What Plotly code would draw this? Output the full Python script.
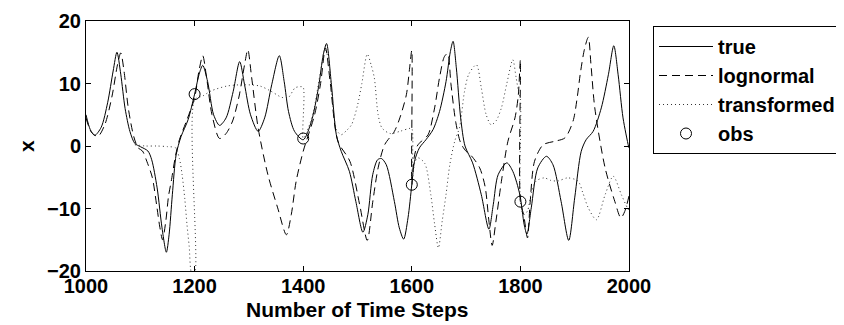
import plotly.graph_objects as go

# ---- data ----
true_x = [1000, 1008, 1016, 1028, 1040, 1050, 1057, 1064, 1072, 1081, 1090, 1100, 1114, 1121, 1131, 1140, 1148,
          1153, 1159, 1166, 1175, 1188, 1200, 1209, 1215, 1224, 1235, 1246, 1258, 1271, 1283, 1292, 1303, 1317,
          1329, 1342, 1356, 1365, 1373, 1384, 1400, 1415, 1428, 1437, 1443, 1452, 1461, 1470, 1485, 1497, 1510,
          1519, 1528, 1537, 1544, 1553, 1568, 1577, 1585, 1593, 1600, 1605, 1614, 1626, 1639, 1651, 1663, 1671,
          1676, 1682, 1690, 1698, 1712, 1728, 1742, 1750, 1759, 1775, 1786, 1799, 1807, 1812, 1820, 1832, 1848,
          1860, 1875, 1889, 1900, 1912, 1921, 1934, 1949, 1962, 1972, 1980, 1989, 1999, 2000]
true_y = [5.0, 2.6, 1.7, 3.0, 7.0, 12.0, 15.0, 11.5, 6.0, 2.3, 0.4, -0.1, -0.8, -2.2, -6.7, -13.1, -17.0,
          -14.2, -7.8, -1.4, 1.5, 4.2, 8.3, 11.7, 12.9, 10.3, 5.0, 3.3, 4.5, 8.7, 13.5, 9.8, 5.0, 2.35,
          4.5, 9.8, 14.45, 10.3, 5.5, 2.35, 1.0, 3.9, 9.3, 14.6, 16.4, 9.8, 1.8, -0.85, -4.05, -8.9, -13.8,
          -11.0, -4.6, -2.2, -2.0, -3.0, -8.9, -13.1, -14.9, -11.5, -6.2, -2.45, -0.3, 1.0, 2.6, 5.5, 10.3, 15.1,
          16.75, 12.5, 4.5, 0.0, -2.7, -7.8, -13.3, -9.4, -4.6, -2.7, -4.05, -7.8, -12.6, -14.1, -9.9, -3.5, -1.65,
          -3.0, -8.9, -15.1, -8.3, -0.85, 1.0, 2.35, 6.1, 11.4, 16.05, 11.4, 4.5, 0.0, -0.3]

logn_x = [1000, 1010, 1022, 1035, 1048, 1058, 1064, 1070, 1078, 1088, 1096, 1104, 1112, 1122, 1130, 1136, 1141,
          1147, 1152, 1157, 1165, 1172, 1185, 1200, 1208, 1215, 1222, 1232, 1246, 1258, 1270, 1282, 1292, 1298,
          1305, 1317, 1335, 1353, 1369, 1378, 1387, 1400, 1421, 1432, 1441, 1450, 1464, 1486, 1504, 1518, 1528,
          1538, 1550, 1568, 1578, 1590, 1596, 1600, 1600, 1604, 1610, 1618, 1630, 1642, 1651, 1660, 1666, 1672,
          1681, 1690, 1700, 1710, 1725, 1735, 1742, 1748, 1755, 1765, 1777, 1790, 1796, 1800, 1800, 1806, 1813,
          1818, 1826, 1842, 1863, 1882, 1897, 1905, 1910, 1918, 1925, 1930, 1937, 1956, 1974, 1985, 1992, 2000]
logn_y = [4.5, 2.2, 1.55, 3.5, 8.0, 13.0, 14.9, 12.0, 6.0, 1.5, -0.3, -0.8, -2.45, -5.0, -9.4, -13.0, -15.0,
          -12.0, -8.0, -5.65, -1.5, 1.0, 4.0, 7.7, 12.0, 14.45, 11.0, 5.0, 1.2, 2.0, 4.0, 8.0, 13.0, 15.4,
          11.0, 2.9, -4.6, -9.9, -14.2, -11.0, -5.65, -0.85, 5.0, 10.0, 15.7, 10.0, 0.75, -2.45, -9.4, -15.1, -9.0,
          -3.5, 0.2, 2.35, 4.5, 8.2, 12.5, 15.3, -6.2, -2.0, 0.0, 0.8, 1.8, 6.1, 10.9, 14.3, 14.8, 10.0,
          3.8, 0.5, -0.85, -1.6, -3.5, -6.5, -12.0, -15.9, -12.0, -5.65, 0.75, 4.5, 8.0, 13.8, -8.9, -11.0, -14.7,
          -9.0, -2.45, 0.2, 0.75, 1.3, 4.0, 8.0, 11.4, 15.5, 17.4, 13.0, 6.1, -3.5, -8.9, -11.5, -10.5, -8.0]

trans_x = [1090, 1110, 1130, 1150, 1165, 1172, 1177, 1182, 1186, 1190, 1195, 1200, 1200, 1215, 1230, 1260, 1290,
           1320, 1340, 1360, 1372, 1385, 1395, 1400, 1400, 1410, 1420, 1432, 1440, 1446, 1455, 1462, 1470, 1480,
           1489, 1500, 1508, 1518, 1525, 1531, 1538, 1545, 1560, 1580, 1595, 1600, 1600, 1606, 1612, 1624, 1635,
           1642, 1649, 1656, 1663, 1670, 1679, 1688, 1697, 1705, 1719, 1728, 1737, 1746, 1755, 1765, 1775, 1786,
           1792, 1797, 1800, 1800, 1806, 1813, 1820, 1829, 1844, 1856, 1869, 1887, 1906, 1915, 1925, 1940, 1956,
           1971, 1986, 1997, 2000]
trans_y = [0.2, 0.0, 0.0, -0.1, -0.3, -2.0, -4.6, -8.5, -12.6, -16.0, -20.5, -20.5, 7.4, 8.0, 8.8, 9.6, 9.8,
           9.6, 8.8, 7.8, 7.7, 9.3, 9.5, 9.4, 1.2, 3.0, 6.0, 12.0, 15.5, 14.0, 6.0, 2.5, 1.8, 2.5,
           3.4, 6.5, 10.0, 14.7, 13.0, 10.9, 5.0, 2.9, 2.0, 2.4, 2.8, 2.8, -6.2, -2.5, -1.9, -2.8, -7.8,
           -12.5, -16.3, -12.0, -7.8, -3.0, 0.75, 3.0, 8.7, 11.5, 13.0, 9.3, 5.0, 3.4, 4.0, 6.1, 10.0, 13.8,
           11.0, 8.5, 7.5, -8.9, -11.0, -10.4, -7.5, -5.6, -5.1, -5.5, -5.6, -5.1, -5.6, -7.5, -9.9, -11.8, -7.8,
           -4.85, -7.8, -9.9, -10.3]

obs_x = [1200, 1400, 1600, 1800]
obs_y = [8.3, 1.2, -6.2, -8.9]

x_ticks = [1000, 1200, 1400, 1600, 1800, 2000]
y_ticks = [-20, -10, 0, 10, 20]

x_title = "Number of Time Steps"
y_title = "x"

FONT = "Liberation Sans, Arial, Helvetica, sans-serif"

fig = go.Figure()
fig.add_trace(go.Scatter(x=true_x, y=true_y, mode="lines", name="true",
                         line=dict(color="black", width=1, shape="spline", smoothing=0.8)))
fig.add_trace(go.Scatter(x=logn_x, y=logn_y, mode="lines", name="lognormal",
                         line=dict(color="black", width=1, dash="8px,5px", shape="spline", smoothing=0.8)))
fig.add_trace(go.Scatter(x=trans_x, y=trans_y, mode="lines", name="transformed",
                         line=dict(color="#333333", width=1, dash="1px,3px", shape="spline", smoothing=0.8)))
fig.add_trace(go.Scatter(x=obs_x, y=obs_y, mode="markers", name="obs",
                         marker=dict(symbol="circle-open", size=11, color="black", line=dict(width=1, color="black"))))

axis_common = dict(showline=True, linecolor="black", linewidth=1, mirror="ticks", ticks="inside",
                   ticklen=5, tickcolor="black", showgrid=False, zeroline=False, automargin=False,
                   tickfont=dict(family=FONT, size=20, color="black", weight="bold"))

fig.update_xaxes(range=[1000, 2000], tickvals=x_ticks, ticklabelstandoff=-3, **axis_common)
fig.update_yaxes(range=[-20, 20], tickvals=y_ticks, **axis_common)

title_font = dict(family=FONT, size=21, color="black", weight="bold")
fig.add_annotation(text=x_title, xref="paper", yref="paper", x=0.5, y=-0.152,
                   xanchor="center", yanchor="middle", showarrow=False, font=title_font)
fig.add_annotation(text=y_title, xref="paper", yref="paper", x=-0.1105, y=0.5, textangle=-90,
                   xanchor="center", yanchor="middle", showarrow=False, font=title_font)

fig.update_layout(
    width=844, height=325,
    margin=dict(l=78, r=223, t=13, b=62, autoexpand=False),
    paper_bgcolor="white", plot_bgcolor="white",
    showlegend=True,
    legend=dict(xref="container", yref="container", x=645 / 844, xanchor="left",
                y=1 - 18 / 325, yanchor="top",
                bordercolor="black", borderwidth=1, bgcolor="white",
                font=dict(family=FONT, size=20, color="black", weight="bold"),
                tracegroupgap=0, itemwidth=54),
)

fig.write_html("out.html")
